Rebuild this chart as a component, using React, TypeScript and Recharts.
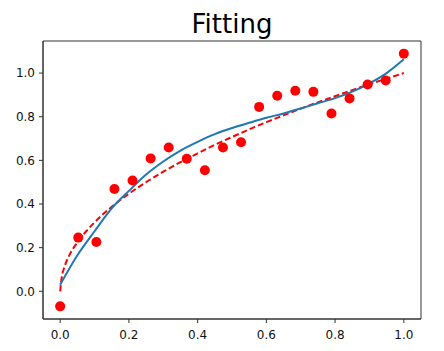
import { ComposedChart, Line, Scatter, XAxis, YAxis, ReferenceArea } from "recharts";

// measured points (20 samples on [0, 1])
const pointX = [0, 0.0526, 0.1053, 0.1579, 0.2105, 0.2632, 0.3158, 0.3684, 0.4211, 0.4737,
  0.5263, 0.5789, 0.6316, 0.6842, 0.7368, 0.7895, 0.8421, 0.8947, 0.9474, 1];
const pointY = [-0.069, 0.246, 0.226, 0.469, 0.508, 0.609, 0.659, 0.607, 0.555, 0.659,
  0.683, 0.845, 0.896, 0.919, 0.914, 0.815, 0.884, 0.948, 0.966, 1.089];

// fitted curve (blue)
const fitX = [0, 0.05, 0.1, 0.15, 0.2, 0.25, 0.3, 0.35, 0.4, 0.45, 0.5,
  0.55, 0.6, 0.65, 0.7, 0.75, 0.8, 0.85, 0.9, 0.95, 1];
const fitY = [0.03, 0.165, 0.275, 0.38, 0.46, 0.535, 0.595, 0.645, 0.685, 0.72, 0.748,
  0.772, 0.795, 0.815, 0.838, 0.862, 0.885, 0.915, 0.953, 1.0, 1.063];

// reference curve (red dashed)
const refX = [0, 0.005, 0.01, 0.025, 0.05, 0.075, 0.1, 0.15, 0.2, 0.25, 0.3, 0.35, 0.4, 0.45, 0.5,
  0.55, 0.6, 0.65, 0.7, 0.75, 0.8, 0.85, 0.9, 0.95, 1];
const refY = [0, 0.07, 0.1, 0.16, 0.224, 0.274, 0.316, 0.387, 0.447, 0.5, 0.548, 0.592, 0.632,
  0.671, 0.707, 0.742, 0.775, 0.806, 0.837, 0.866, 0.894, 0.922, 0.949, 0.975, 1.0];

const xTicks = [0, 0.2, 0.4, 0.6, 0.8, 1.0];
const yTicks = [0, 0.2, 0.4, 0.6, 0.8, 1.0];

const points = pointX.map((x, i) => ({ x, y: pointY[i] }));
const fit = fitX.map((x, i) => ({ x, y: fitY[i] }));
const ref = refX.map((x, i) => ({ x, y: refY[i] }));

const tickStyle = { fill: "#111", fontSize: 12, fontFamily: "DejaVu Sans, sans-serif" };

export default function App() {
  return (
    <div style={{ position: "absolute", left: 0, top: 0, width: 444, height: 351, background: "#fff" }}>
      <div style={{
        position: "absolute", left: 43, width: 378, top: 9, textAlign: "center",
        fontFamily: "DejaVu Sans, sans-serif", fontSize: 26, lineHeight: "30px", color: "#000",
      }}>Fitting</div>
      <ComposedChart width={444} height={351} margin={{ top: 41, right: 23, bottom: 0, left: 0 }}>
        <XAxis dataKey="x" type="number" domain={[-0.05, 1.05]} ticks={xTicks} allowDataOverflow
          tickFormatter={(v) => v.toFixed(1)} tick={tickStyle} height={32}
          tickSize={4} tickMargin={7} stroke="#333" />
        <YAxis dataKey="y" type="number" domain={[-0.127, 1.147]} ticks={yTicks} allowDataOverflow
          tickFormatter={(v) => v.toFixed(1)} tick={tickStyle} width={43}
          tickSize={4} tickMargin={4} stroke="#333" />
        <ReferenceArea x1={-0.05} x2={1.05} y1={-0.127} y2={1.147} fill="none" stroke="#333" strokeWidth={1} />
        <Line data={ref} dataKey="y" type="monotone" stroke="#ff0000" strokeWidth={2}
          strokeDasharray="6 3" dot={false} isAnimationActive={false} />
        <Line data={fit} dataKey="y" type="monotone" stroke="#1f77b4" strokeWidth={2}
          dot={false} isAnimationActive={false} />
        <Scatter data={points} dataKey="y" fill="#ff0000" isAnimationActive={false}
          shape={(p: any) => <circle cx={p.cx} cy={p.cy} r={5} fill="#ff0000" />} />
      </ComposedChart>
    </div>
  );
}
